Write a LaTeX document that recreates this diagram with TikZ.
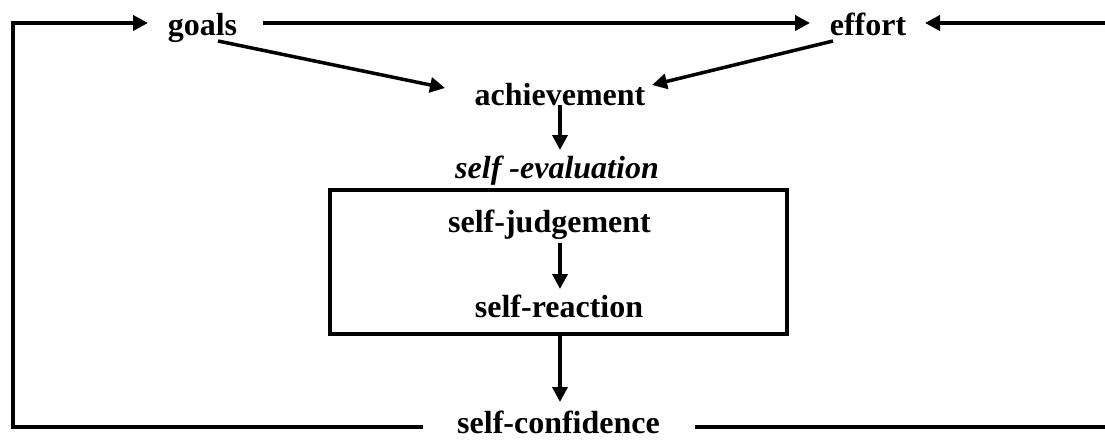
\documentclass[tikz,border=0pt]{standalone}
\usepackage{fontspec}
\setmainfont{Liberation Serif}
\usetikzlibrary{arrows.meta}
\tikzset{
  lbl/.style={inner sep=0pt, anchor=base, font=\fontsize{32}{38}\selectfont\bfseries},
  ln/.style={line width=4pt},
  arr/.style={line width=3.5pt, -{Triangle[length=15pt,width=15pt]}},
  boxst/.style={draw, line width=4pt}
}
\begin{document}
\begin{tikzpicture}[x=1pt,y=-1pt]
\useasboundingbox (0,0) rectangle (1105,439);
% nodes
\node[lbl] (goals) at (202.5,35) {goals};
\node[lbl] (effort) at (868,35) {effort};
\node[lbl] (ach) at (560,105) {achievement};
\node[lbl, font=\fontsize{32}{38}\selectfont\bfseries\itshape] (seval) at (557,178) {self -evaluation};
\node[lbl] (sjudge) at (549.5,232) {self-judgement};
\node[lbl] (sreact) at (559,317) {self-reaction};
\node[lbl] (sconf) at (558.5,433) {self-confidence};
\draw[boxst] (330,190) rectangle (787,334);
\coordinate (boxbot) at (560,334);
% free-end coordinates
\coordinate (bl0) at (423,427);
\coordinate (bl1) at (13,427);
\coordinate (tl) at (13,23);
\coordinate (gin) at (148,23);
\coordinate (gout) at (263,23);
\coordinate (ein) at (810,23);
\coordinate (eright) at (1105,23);
\coordinate (erin) at (925,23);
\coordinate (br0) at (695,427);
\coordinate (br1) at (1105,427);
\coordinate (gd) at (218,41);
\coordinate (ga) at (445,88);
\coordinate (ed) at (833,41);
\coordinate (ea) at (652,85);
\coordinate (a0) at (560,105);
\coordinate (a1) at (560,150);
\coordinate (j0) at (560,243);
\coordinate (j1) at (560,289);
\coordinate (c1) at (560,402);
% connectors
\draw[arr, line width=4pt] (bl0) -- (bl1) -- (tl) -- (gin);
\draw[arr, line width=4pt] (gout) -- (ein);
\draw[arr, line width=4pt] (eright) -- (erin);
\draw[ln] (br0) -- (br1);
\draw[arr] (gd) -- (ga);
\draw[arr] (ed) -- (ea);
\draw[arr] (a0) -- (a1);
\draw[arr] (j0) -- (j1);
\draw[arr] (boxbot) -- (c1);
\end{tikzpicture}
\end{document}
